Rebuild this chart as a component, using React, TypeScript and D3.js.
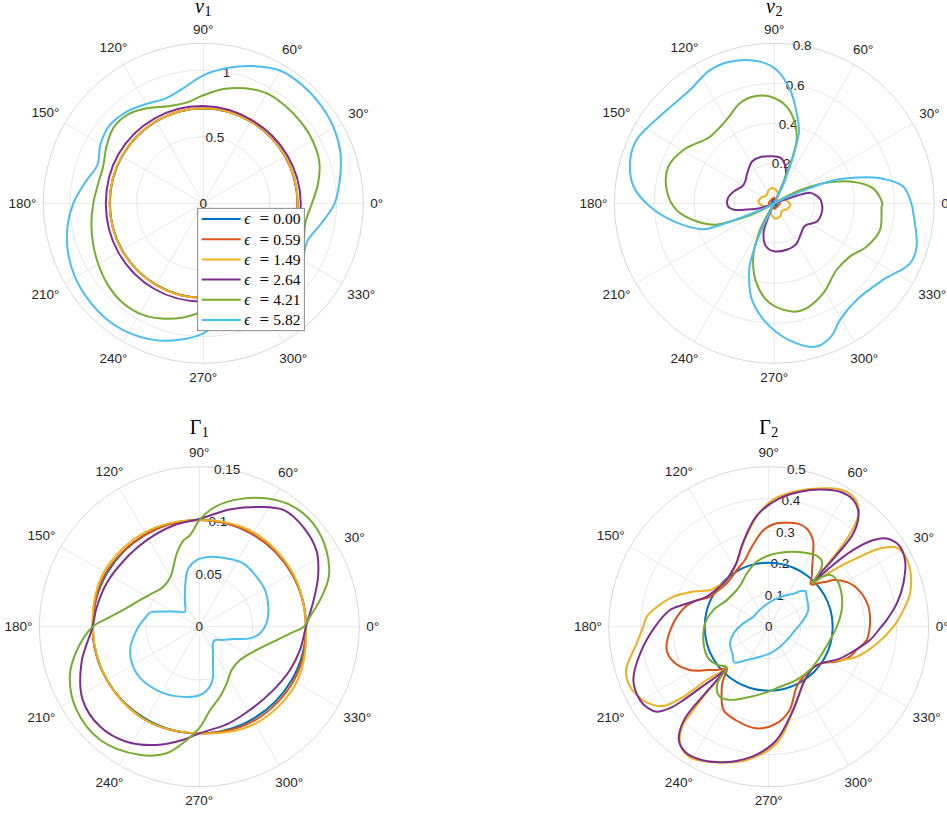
import React from "react";
import * as d3 from "d3";

type Pt = [number, number]; // [theta in degrees, r]

// ---------------- v1 ----------------
const v1_e000: Pt[] = [[0,0.706],[30,0.707],[60,0.709],[90,0.711],[120,0.709],[150,0.704],[180,0.701],[210,0.703],[240,0.706],[270,0.709],[300,0.708],[330,0.707]];
const v1_e059: Pt[] = [[0,0.707],[30,0.708],[60,0.71],[90,0.712],[120,0.71],[150,0.705],[180,0.702],[210,0.704],[240,0.707],[270,0.71],[300,0.709],[330,0.708]];
const v1_e149: Pt[] = [[0,0.708],[30,0.709],[60,0.711],[90,0.713],[120,0.711],[150,0.706],[180,0.703],[210,0.705],[240,0.708],[270,0.711],[300,0.71],[330,0.709]];
const v1_e264: Pt[] = [[0,0.731],[30,0.726],[60,0.722],[90,0.729],[120,0.734],[150,0.735],[180,0.731],[210,0.736],[240,0.74],[270,0.737],[300,0.733],[330,0.733]];
const v1_e421: Pt[] = [[0,0.815],[10,0.875],[20,0.925],[30,0.945],[40,0.952],[50,0.955],[60,0.952],[70,0.918],[80,0.87],[90,0.81],[100,0.765],[110,0.775],[120,0.825],[130,0.873],[140,0.88],[150,0.84],[160,0.8],[170,0.803],[180,0.825],[190,0.852],[200,0.88],[210,0.91],[220,0.94],[230,0.96],[240,0.955],[250,0.92],[260,0.87],[270,0.81],[280,0.765],[290,0.775],[300,0.825],[310,0.87],[320,0.88],[330,0.84],[340,0.8],[350,0.78]];
const v1_e582: Pt[] = [[0,0.985],[10,1.04],[20,1.095],[30,1.13],[40,1.148],[50,1.156],[60,1.15],[70,1.095],[80,1.03],[90,0.96],[100,0.875],[110,0.835],[120,0.86],[130,0.896],[140,0.914],[150,0.89],[160,0.845],[170,0.9],[180,0.975],[190,1.035],[200,1.08],[210,1.11],[220,1.125],[230,1.132],[240,1.12],[250,1.09],[260,1.04],[270,0.975],[280,0.88],[290,0.835],[300,0.855],[310,0.89],[320,0.91],[330,0.86],[340,0.83],[350,0.895]];

// ---------------- v2 ----------------
const v2_e000: Pt[] = [[0,0.012],[45,0.01],[90,0.012],[135,0.01],[180,0.012],[225,0.01],[270,0.012],[315,0.01]];
const v2_e059: Pt[] = [[0,0.028],[45,0.015],[90,0.028],[135,0.022],[180,0.028],[225,0.015],[270,0.028],[315,0.022]];
const v2_e149: Pt[] = [[0,0.078],[20,0.05],[33,0.015],[45,0.002],[58,0.015],[72,0.055],[95,0.077],[115,0.07],[135,0.055],[155,0.07],[175,0.08],[195,0.055],[212,0.015],[225,0.002],[238,0.015],[252,0.055],[275,0.077],[295,0.07],[315,0.055],[335,0.07],[355,0.08]];
const v2_e264: Pt[] = [[0,0.237],[4.5,0.232],[10,0.215],[16,0.189],[18.5,0.123],[19.5,0.06],[22,0.008],[45,0],[63,0.008],[65,0.07],[67,0.146],[74.6,0.2],[82,0.229],[94.5,0.236],[106.4,0.2415],[117.6,0.237],[131.7,0.203],[142,0.183],[152,0.181],[163.4,0.21],[173.4,0.233],[183.7,0.232],[189,0.204],[193,0.139],[199,0.072],[201,0.03],[203,0.008],[225,0],[243,0.008],[245,0.04],[247,0.089],[250,0.158],[259,0.219],[269.6,0.24],[286,0.24],[297.3,0.2326],[310,0.2046],[320,0.19],[326,0.193],[337.3,0.233],[352.5,0.242]];
const v2_e421: Pt[] = [[0,0.54],[8.6,0.5],[16,0.394],[22.2,0.265],[25,0.19],[27.6,0.126],[30,0.06],[33,0.01],[47,0],[63,0.01],[66,0.07],[67.6,0.162],[68.5,0.252],[70.6,0.336],[75.5,0.413],[82.7,0.487],[92.3,0.534],[101,0.544],[109,0.529],[120,0.48],[134,0.463],[149.6,0.527],[161,0.561],[173,0.542],[184,0.49],[193,0.4],[199.5,0.32],[202,0.25],[205,0.17],[208,0.08],[211,0.02],[225,0],[237,0.01],[239,0.058],[242,0.151],[248.5,0.287],[257.5,0.41],[267.5,0.5],[280,0.55],[287,0.549],[298.6,0.512],[313,0.456],[325,0.463],[335,0.51],[345.8,0.545],[358.2,0.537]];
const v2_e582: Pt[] = [[0,0.685],[7.4,0.65],[13.3,0.543],[19,0.383],[21.5,0.3],[23,0.2],[24.5,0.1],[27,0.03],[45,0],[62,0.008],[64.5,0.06],[66,0.15],[68,0.25],[69.5,0.32],[71,0.38],[76,0.464],[82,0.572],[89,0.667],[95.8,0.712],[107.4,0.742],[115.8,0.74],[126.7,0.706],[141,0.715],[155,0.758],[163,0.753],[173,0.71],[181.5,0.622],[190,0.513],[200,0.38],[201.5,0.32],[203,0.2],[205,0.1],[208,0.03],[225,0],[242,0.008],[244,0.09],[245,0.2],[248,0.32],[249.5,0.36],[257,0.496],[268,0.617],[279,0.709],[286.5,0.747],[293.4,0.722],[299.4,0.669],[310.4,0.635],[325,0.666],[336,0.742],[343,0.744],[355.9,0.697]];

// ---------------- Gamma1 ----------------
const g1_e000: Pt[] = [[0,0.1],[30,0.1],[60,0.1],[90,0.1],[120,0.1],[150,0.1],[180,0.1],[210,0.1],[240,0.1],[270,0.1],[300,0.1],[330,0.1]];
const g1_e059: Pt[] = [[0,0.1],[30,0.1],[60,0.1],[90,0.1],[120,0.1],[150,0.101],[180,0.1],[210,0.1],[240,0.101],[270,0.1],[300,0.102],[330,0.102]];
const g1_e149: Pt[] = [[0,0.1],[30,0.101],[60,0.102],[90,0.1],[120,0.102],[150,0.103],[180,0.1],[210,0.1],[240,0.101],[270,0.1],[300,0.105],[330,0.105]];
const g1_e264: Pt[] = [[0,0.1],[13,0.11],[23,0.121],[33,0.131],[44,0.135],[54,0.135],[63,0.126],[75,0.114],[90,0.101],[104,0.098],[121,0.095],[135,0.094],[155,0.096],[170,0.098],[180,0.1],[197,0.1155],[212,0.129],[225,0.132],[238,0.1275],[250,0.118],[262,0.107],[270,0.1],[286,0.095],[301,0.0914],[319,0.0913],[334.5,0.0942],[347,0.0969]];
const g1_e421: Pt[] = [[0,0.098],[5,0.104],[12.5,0.116],[21,0.13],[31,0.139],[42,0.144],[52,0.143],[62,0.136],[72,0.126],[82,0.114],[90,0.1],[93,0.092],[96,0.086],[100.5,0.082],[107,0.072],[120,0.054],[132,0.0505],[147,0.0553],[156,0.061],[167.6,0.073],[175,0.087],[180,0.1],[191,0.117],[201,0.13],[214,0.139],[229,0.141],[245,0.1325],[255.5,0.1226],[263.6,0.107],[270,0.095],[273,0.088],[277.3,0.079],[286.5,0.0684],[295.8,0.059],[306.7,0.0507],[320.7,0.0493],[338,0.058],[350.2,0.0736],[356,0.086]];
const g1_e582: Pt[] = [[3,0.0632],[16,0.0674],[29,0.0705],[41,0.0713],[55,0.0723],[68,0.069],[81,0.0664],[92,0.0626],[100.7,0.0556],[104,0.05],[110,0.039],[120,0.027],[134,0.0195],[145,0.0245],[155,0.0337],[164,0.048],[172,0.052],[183,0.0588],[199,0.0686],[217,0.0733],[236,0.0716],[254.6,0.068],[270.6,0.064],[280,0.057],[285,0.0495],[290,0.0375],[300,0.0256],[310,0.0199],[320,0.0194],[330,0.025],[340,0.0339],[347,0.0487],[353.7,0.0572]];

// ---------------- Gamma2 ----------------
const g2_e000: Pt[] = [[0,0.2],[30,0.2],[60,0.2],[90,0.2],[120,0.2],[150,0.2],[180,0.2],[210,0.2],[240,0.2],[270,0.2],[300,0.2],[330,0.2]];
const g2_e059: Pt[] = [[0,0.316],[5.6,0.318],[11.3,0.318],[21,0.306],[29,0.284],[35.8,0.249],[37.8,0.229],[41,0.208],[45,0.187],[50,0.21],[53,0.225],[56,0.245],[59.8,0.277],[63,0.304],[68.9,0.329],[74.8,0.3345],[80,0.33],[85.6,0.324],[93,0.3025],[103.7,0.2466],[110,0.22],[119.5,0.203],[134,0.1886],[145,0.195],[153,0.206],[160,0.24],[167.3,0.27],[180,0.303],[192.9,0.327],[201,0.315],[208.8,0.281],[212.6,0.255],[216,0.23],[220,0.21],[225,0.185],[228,0.205],[230,0.224],[233.4,0.2465],[241.5,0.296],[251,0.31],[263,0.32],[274.7,0.303],[284,0.269],[295,0.207],[305,0.19],[313.6,0.187],[325,0.2],[333,0.24],[340,0.271],[345.2,0.284],[352.3,0.309]];
const g2_e149: Pt[] = [[0,0.39],[7,0.424],[13.3,0.454],[21.6,0.476],[28,0.48],[32,0.468],[35.1,0.425],[37.5,0.36],[39.5,0.31],[41.5,0.26],[43.5,0.215],[45,0.19],[46,0.23],[47,0.29],[48,0.35],[49.5,0.41],[52,0.458],[56.5,0.484],[62.4,0.484],[69.6,0.461],[78.3,0.433],[87.9,0.398],[96.2,0.346],[107,0.272],[116.8,0.222],[125,0.205],[133,0.196],[142.4,0.205],[148,0.216],[155,0.26],[162.5,0.312],[170,0.355],[175.3,0.3825],[180,0.392],[187.2,0.416],[196.9,0.466],[202,0.473],[207.4,0.4645],[213,0.4427],[217,0.412],[219.4,0.345],[220.7,0.2555],[223,0.215],[225,0.187],[226,0.23],[227,0.3],[228,0.36],[229,0.41],[232.8,0.458],[238.8,0.477],[249,0.454],[260.6,0.422],[274,0.365],[286.5,0.2716],[301.5,0.2076],[310,0.192],[318,0.188],[325,0.2],[333,0.235],[341,0.29],[351,0.3415]];
const g2_e264: Pt[] = [[0,0.352],[3.2,0.369],[10.3,0.407],[17.8,0.442],[26,0.474],[31.9,0.48],[36.8,0.46],[39.6,0.425],[42.2,0.357],[44,0.27],[45,0.19],[46,0.24],[46.5,0.3],[47.8,0.394],[51.6,0.452],[56.2,0.476],[62.1,0.477],[69.5,0.458],[76.9,0.433],[85,0.403],[96,0.35],[107,0.275],[117,0.223],[125,0.205],[133,0.196],[143.6,0.2],[154,0.215],[164.8,0.27],[170.4,0.3127],[180,0.355],[191.7,0.41],[201.5,0.4545],[209.7,0.463],[214,0.455],[217.2,0.439],[219.5,0.4],[220.7,0.3516],[222,0.28],[223.8,0.225],[225,0.187],[226,0.24],[226.5,0.3],[227.8,0.394],[231.6,0.452],[236.2,0.47],[242,0.468],[249.5,0.452],[256.9,0.43],[265,0.4],[274,0.355],[286.5,0.27],[301.5,0.207],[310,0.193],[318,0.189],[325,0.2],[335,0.24],[342,0.2675],[352.5,0.319]];
const g2_e421: Pt[] = [[0,0.213],[12.9,0.234],[24.5,0.25],[34.5,0.258],[40,0.252],[43,0.228],[45,0.19],[46.5,0.22],[48,0.245],[51,0.264],[55.8,0.268],[64.9,0.256],[76.4,0.24],[88.9,0.224],[100.5,0.2066],[112.4,0.18],[122,0.16],[131,0.152],[147.6,0.155],[163,0.18],[177,0.199],[194.3,0.21],[207.7,0.213],[217.3,0.198],[221.5,0.185],[224,0.182],[226,0.21],[228,0.24],[233.6,0.265],[240,0.263],[250.5,0.2375],[265.4,0.209],[280.7,0.191],[297.7,0.188],[313.6,0.187],[329.7,0.186],[347.7,0.196]];
const g2_e582: Pt[] = [[0,0.092],[10.9,0.11],[22.8,0.134],[38.3,0.151],[44,0.16],[48,0.15],[52,0.132],[60.4,0.1138],[80,0.0846],[105,0.0647],[125,0.058],[147,0.057],[172.5,0.08],[191,0.112],[203.3,0.1316],[218.2,0.143],[226,0.155],[236.6,0.125],[254,0.0976],[273,0.0834],[299.5,0.0718],[320,0.07],[335,0.0736],[352.8,0.083]];

// ---------------- ticks / labels ----------------
const EPSILONS = ["0.00", "0.59", "1.49", "2.64", "4.21", "5.82"];
const THETA_TICKS = [0, 30, 60, 90, 120, 150, 180, 210, 240, 270, 300, 330];
const V1_RTICKS = [0, 0.5, 1];
const V2_RTICKS = [0, 0.2, 0.4, 0.6, 0.8];
const G1_RTICKS = [0, 0.05, 0.1, 0.15];
const G2_RTICKS = [0, 0.1, 0.2, 0.3, 0.4, 0.5];

const COLORS = ["#0072BD", "#D95319", "#EDB120", "#7E2F8E", "#77AC30", "#4DBEEE"];
const R = 160;
const TXT = "#262626";
const SANS = "'Liberation Sans', Arial, Helvetica, sans-serif";
const SERIF = "'Liberation Serif', 'Times New Roman', serif";

const PANELS = [
  { key: "v1", title: "v", sub: "1", italic: true, cx: 203.3, cy: 203.3, titleY: 12.5, rmax: 1.2, rticks: V1_RTICKS, series: [v1_e000, v1_e059, v1_e149, v1_e264, v1_e421, v1_e582], legend: true },
  { key: "v2", title: "v", sub: "2", italic: true, cx: 774.3, cy: 203.3, titleY: 12.5, rmax: 0.8, rticks: V2_RTICKS, series: [v2_e000, v2_e059, v2_e149, v2_e264, v2_e421, v2_e582], legend: false },
  { key: "g1", title: "\u0393", sub: "1", italic: false, cx: 199.3, cy: 626.7, titleY: 433.5, rmax: 0.15, rticks: G1_RTICKS, series: [g1_e000, g1_e059, g1_e149, g1_e264, g1_e421, g1_e582], legend: false },
  { key: "g2", title: "\u0393", sub: "2", italic: false, cx: 768.7, cy: 626.7, titleY: 433.5, rmax: 0.5, rticks: G2_RTICKS, series: [g2_e000, g2_e059, g2_e149, g2_e264, g2_e421, g2_e582], legend: false },
];

function thetaLabelPos(deg: number, label: string) {
  const w = label.length * 7.4 - 2; // approx text width
  const h = 13.5;
  const a = (deg * Math.PI) / 180;
  const c = Math.cos(a), s = Math.sin(a);
  const rr = R + 7 + (w / 2) * Math.abs(c) + (h / 2) * Math.abs(s);
  return [rr * c, -rr * s];
}

function Legend() {
  const x0 = 197.7, y0 = 208.3, w = 106.6, h = 122.4;
  return (
    <g>
      <rect x={x0} y={y0} width={w} height={h} fill="#fff" stroke="#6e6e6e" strokeWidth={0.8} />
      {EPSILONS.map((e, i) => {
        const y = 219 + i * 20.2;
        return (
          <g key={e}>
            <line x1={201.7} x2={240.7} y1={y} y2={y} stroke={COLORS[i]} strokeWidth={2} />
            <text x={244.2} y={y + 5.3} fontFamily={SERIF} fontStyle="italic" fontSize={16} fill="#000">{"\u03F5"}</text>
            <text x={264.2} y={y + 5.3} fontFamily={SERIF} fontSize={17} textAnchor="middle" fill="#000">=</text>
            <text x={273.3} y={y + 5.3} fontFamily={SERIF} fontSize={15.5} fill="#000">{e}</text>
          </g>
        );
      })}
    </g>
  );
}

function Panel({ p }: { p: (typeof PANELS)[number] }) {
  const rs = d3.scaleLinear().domain([0, p.rmax]).range([0, R]);
  const line = d3
    .lineRadial<Pt>()
    .angle((d) => Math.PI / 2 - (d[0] * Math.PI) / 180)
    .radius((d) => rs(d[1]))
    .curve(d3.curveCatmullRomClosed.alpha(0.5));
  const rings = p.rticks.filter((t) => t > 0 && rs(t) < R - 0.5);
  const labA = (80 * Math.PI) / 180;
  return (
    <g>
      <text x={p.cx} y={p.titleY} textAnchor="middle" fontFamily={SERIF} fontSize={20} fill="#000">
        <tspan fontStyle={p.italic ? "italic" : "normal"}>{p.title}</tspan>
        <tspan fontSize={14} dy={3.5} dx={0.5}>{p.sub}</tspan>
      </text>
      <g transform={`translate(${p.cx},${p.cy})`}>
        {THETA_TICKS.map((t) => {
          const a = (t * Math.PI) / 180;
          return <line key={"s" + t} x1={0} y1={0} x2={R * Math.cos(a)} y2={-R * Math.sin(a)} stroke="#e1e1e1" strokeWidth={0.8} />;
        })}
        {rings.map((t) => (
          <circle key={"r" + t} r={rs(t)} fill="none" stroke="#e1e1e1" strokeWidth={0.8} />
        ))}
        <circle r={R} fill="none" stroke="#d2d2d2" strokeWidth={0.9} />
        {THETA_TICKS.map((t) => {
          const lab = `${t}\u00B0`;
          const [x, y] = thetaLabelPos(t, lab);
          return (
            <text key={"t" + t} x={x} y={y} textAnchor="middle" dominantBaseline="central" fontFamily={SANS} fontSize={13.5} fill={TXT}>
              {lab}
            </text>
          );
        })}
        {p.rticks.map((t) => (
          <text key={"rl" + t} x={rs(t) * Math.cos(labA)} y={-rs(t) * Math.sin(labA)} textAnchor="middle" dominantBaseline="central" fontFamily={SANS} fontSize={13.5} fill={TXT}>
            {String(t)}
          </text>
        ))}
        {p.series.map((s, i) => (
          <path key={"d" + i} d={line(s) || ""} fill="none" stroke={COLORS[i]} strokeWidth={2} strokeLinejoin="round" />
        ))}
      </g>
      {p.legend && <Legend />}
    </g>
  );
}

export default function App() {
  return (
    <svg width={947} height={816} viewBox="0 0 947 816" style={{ position: "absolute", left: 0, top: 0, display: "block", background: "#fff" }}>
      <rect x={0} y={0} width={947} height={816} fill="#fff" />
      {PANELS.map((p) => (
        <Panel key={p.key} p={p} />
      ))}
    </svg>
  );
}
